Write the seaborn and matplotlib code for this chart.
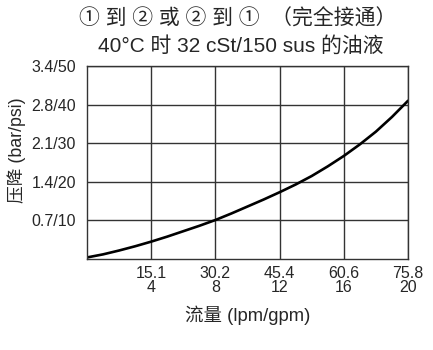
import matplotlib
matplotlib.use("Agg")
import matplotlib.pyplot as plt
import seaborn as sns
import pandas as pd

flow_gpm = [0, 1, 2, 3, 4, 5, 6, 7, 8, 9, 10,
            11, 12, 13, 14, 15, 16, 17, 18, 19, 20]
drop_psi = [0.4, 1.2, 2.2, 3.3, 4.5, 5.8, 7.2, 8.6, 10.1, 11.8, 13.6,
            15.4, 17.3, 19.3, 21.5, 24.0, 26.7, 29.7, 33.0, 36.8, 41.0]

x_ticks = [4, 8, 12, 16, 20]
x_labels = ["15.1\n4", "30.2\n8", "45.4\n12", "60.6\n16", "75.8\n20"]
y_ticks = [10, 20, 30, 40, 50]
y_labels = ["0.7/10", "1.4/20", "2.1/30", "2.8/40", "3.4/50"]

title_line1 = "① 到 ② 或 ② 到 ①  （完全接通）"
title_line2 = "40°C 时 32 cSt/150 sus 的油液"
xlabel = "流量 (lpm/gpm)"
ylabel = "压降 (bar/psi)"

sns.set_theme(style="white")
plt.rcParams["font.family"] = ["Liberation Sans", "Noto Sans CJK SC", "DejaVu Sans"]

fig = plt.figure(figsize=(4.33, 3.5), dpi=100)
ax = fig.add_axes([0.2009, 0.26, 0.7414, 0.5514])

df = pd.DataFrame({"flow": flow_gpm, "drop": drop_psi})
sns.lineplot(data=df, x="flow", y="drop", ax=ax, color="black", linewidth=1.9)

ax.set_xlim(0, 20)
ax.set_ylim(0, 50)
ax.set_xticks(x_ticks)
ax.set_xticklabels(x_labels, fontsize=11.5, linespacing=0.95)
ax.set_yticks(y_ticks)
ax.set_yticklabels(y_labels, fontsize=11.5)
ax.tick_params(axis="y", length=0, pad=8)
ax.tick_params(axis="x", length=0, pad=5)
ax.grid(True, color="#333333", linewidth=1.0)
for s in ax.spines.values():
    s.set_color("#333333")
    s.set_linewidth(1.0)
    s.set_visible(True)

ax.set_xlabel(xlabel, fontsize=13.3, labelpad=7)
ax.set_ylabel(ylabel, fontsize=12.8)
ax.yaxis.set_label_coords(-0.19, 0.565)
fig.text(0.55, 0.947, title_line1, ha="center", va="center", fontsize=15)
fig.text(0.557, 0.870, title_line2, ha="center", va="center", fontsize=15)

fig.savefig("out.png", dpi=100)
